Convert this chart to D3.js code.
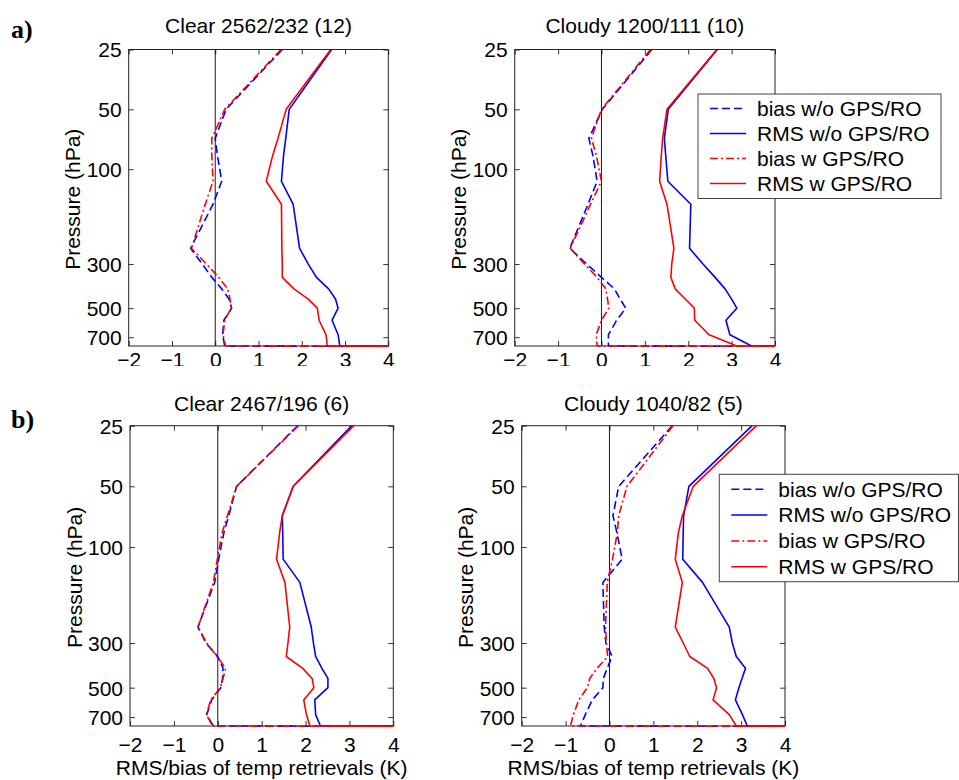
<!DOCTYPE html>
<html>
<head>
<meta charset="utf-8">
<script src="https://cdn.jsdelivr.net/npm/d3@7"></script>
<style>
  body { margin: 0; background: #fff; }
  text { font-family: "Liberation Sans", Arial, Helvetica, sans-serif; }
</style>
</head>
<body>
<script>
// pressure levels (hPa); last level is the surface point, far off the x range
var levels = [25, 50, 70, 85, 115, 150, 250, 300, 350, 400, 450, 500, 575, 680, 775, 800];
var xTicks = [-2, -1, 0, 1, 2, 3, 4];
var yTicks = [25, 50, 100, 300, 500, 700];
var seriesNames = ["bias w/o GPS/RO", "RMS w/o GPS/RO", "bias w GPS/RO", "RMS w GPS/RO"];
var titles = ["Clear 2562/232 (12)", "Cloudy 1200/111 (10)", "Clear 2467/196 (6)", "Cloudy 1040/82 (5)"];
var rowLabels = ["a)", "b)"];

// a) clear
var clearA_biasNo = [1.55, 0.25, 0.0, 0.05, 0.15, -0.05, -0.57, -0.3, -0.08, 0.15, 0.32, 0.38, 0.2, 0.17, 0.22, 30];
var clearA_rmsNo  = [2.69, 1.71, 1.63, 1.58, 1.53, 1.80, 1.95, 2.15, 2.34, 2.62, 2.78, 2.84, 2.70, 2.84, 2.88, 30];
var clearA_biasW  = [1.52, 0.22, -0.08, -0.08, -0.05, -0.23, -0.55, -0.2, 0.08, 0.29, 0.34, 0.37, 0.22, 0.18, 0.24, 30];
var clearA_rmsW   = [2.67, 1.64, 1.45, 1.33, 1.18, 1.53, 1.54, 1.55, 1.55, 1.82, 2.15, 2.36, 2.40, 2.56, 2.59, 30];
// a) cloudy
var cloudyA_biasNo = [1.16, 0.02, -0.29, -0.2, -0.1, -0.31, -0.73, -0.34, 0.0, 0.3, 0.43, 0.56, 0.35, 0.16, 0.16, 30];
var cloudyA_rmsNo  = [2.67, 1.54, 1.45, 1.48, 1.53, 2.06, 2.03, 2.34, 2.62, 2.85, 3.0, 3.12, 2.87, 2.96, 3.46, 30];
var cloudyA_biasW  = [1.13, 0.0, -0.23, -0.12, 0.0, -0.25, -0.72, -0.39, -0.1, 0.1, 0.14, 0.17, 0.0, -0.12, -0.1, 30];
var cloudyA_rmsW   = [2.66, 1.51, 1.41, 1.38, 1.34, 1.51, 1.67, 1.62, 1.60, 1.70, 1.93, 2.14, 2.15, 2.48, 3.12, 30];
// b) clear
var clearB_biasNo = [1.82, 0.43, 0.25, 0.14, 0.02, -0.07, -0.45, -0.27, 0.0, 0.12, 0.11, 0.07, -0.14, -0.25, -0.1, 30];
var clearB_rmsNo  = [3.05, 1.72, 1.47, 1.48, 1.49, 1.87, 2.13, 2.18, 2.23, 2.37, 2.51, 2.51, 2.21, 2.23, 2.34, 30];
var clearB_biasW  = [1.84, 0.43, 0.22, 0.10, -0.01, -0.1, -0.45, -0.25, -0.02, 0.18, 0.12, 0.06, -0.16, -0.26, -0.12, 30];
var clearB_rmsW   = [3.10, 1.72, 1.47, 1.41, 1.34, 1.53, 1.64, 1.60, 1.56, 1.93, 2.15, 2.19, 1.96, 2.02, 2.10, 30];
// b) cloudy
var cloudyB_biasNo = [1.43, 0.21, 0.08, 0.17, 0.29, -0.15, -0.12, -0.08, 0.06, -0.05, -0.14, -0.15, -0.39, -0.55, -0.66, 30];
var cloudyB_rmsNo  = [3.25, 1.81, 1.69, 1.68, 1.67, 2.12, 2.73, 2.80, 2.89, 3.10, 3.02, 2.95, 2.87, 3.03, 3.14, 30];
var cloudyB_biasW  = [1.45, 0.40, 0.21, 0.18, 0.07, -0.05, -0.09, -0.07, -0.04, -0.28, -0.45, -0.5, -0.70, -0.82, -0.89, 30];
var cloudyB_rmsW   = [3.35, 1.91, 1.66, 1.57, 1.50, 1.66, 1.50, 1.68, 1.83, 2.23, 2.38, 2.44, 2.36, 2.73, 2.89, 30];

var styles = [
  { color: "#0000ff", dash: "8,4" },
  { color: "#0000ff", dash: null },
  { color: "#ff0000", dash: "8,3,2,3" },
  { color: "#ff0000", dash: null }
];

var panels = [
  { title: titles[0], x: 128.7, y: 49.5, w: 259.6, h: 296.5, series: [clearA_biasNo, clearA_rmsNo, clearA_biasW, clearA_rmsW],
    tickBase: 21, tickClip: 366, xlabel: false, legend: null },
  { title: titles[1], x: 514.7, y: 49.5, w: 260.3, h: 296.5, series: [cloudyA_biasNo, cloudyA_rmsNo, cloudyA_biasW, cloudyA_rmsW],
    tickBase: 21, tickClip: 366, xlabel: false, legend: { x: 698, y: 94, w: 243, h: 104.5, row: 25, first: 14.5 } },
  { title: titles[2], x: 130, y: 425.7, w: 263.3, h: 300.3, series: [clearB_biasNo, clearB_rmsNo, clearB_biasW, clearB_rmsW],
    tickBase: 26.3, tickClip: null, xlabel: true, legend: null },
  { title: titles[3], x: 521.7, y: 425.7, w: 263.3, h: 300.3, series: [cloudyB_biasNo, cloudyB_rmsNo, cloudyB_biasW, cloudyB_rmsW],
    tickBase: 26.3, tickClip: null, xlabel: true, legend: { x: 719.3, y: 474.3, w: 239.2, h: 107.4, row: 25.8, first: 15 } }
];

var fs = 21;

var svg = d3.select("body").append("svg")
  .attr("width", 959)
  .attr("height", 780);

svg.append("rect").attr("width", 959).attr("height", 780).attr("fill", "white");

// row labels a) b)
svg.selectAll(".rowlab")
  .data(rowLabels)
  .enter()
  .append("text")
  .attr("x", 11)
  .attr("y", function(d, i) { return i == 0 ? 37.5 : 427.5; })
  .style("font-family", "'Liberation Serif', 'Times New Roman', serif")
  .style("font-weight", "bold")
  .style("font-size", "26px")
  .text(function(d) { return d; });

panels.forEach(function(p, pi) {
  var x = d3.scaleLinear().domain([-2, 4]).range([0, p.w]);
  var y = d3.scaleLog().domain([25, 775]).range([0, p.h]);

  var g = svg.append("g").attr("transform", "translate(" + p.x + "," + p.y + ")");

  var clipId = "clip" + pi;
  svg.append("clipPath").attr("id", clipId)
    .append("rect").attr("x", p.x).attr("y", p.y).attr("width", p.w).attr("height", p.h + 1.2);

  // axes: ticks inside on all four sides
  var left = g.append("g").call(d3.axisLeft(y).tickValues(yTicks).tickFormat(d3.format("d"))
    .tickSizeInner(-5).tickSizeOuter(0).tickPadding(7));
  g.append("g").attr("transform", "translate(" + p.w + ",0)")
    .call(d3.axisRight(y).tickValues(yTicks).tickFormat("").tickSizeInner(-5).tickSizeOuter(0));
  g.append("g").call(d3.axisTop(x).tickValues(xTicks).tickFormat("").tickSizeInner(-5).tickSizeOuter(0));
  var bottom = g.append("g").attr("transform", "translate(0," + p.h + ")")
    .call(d3.axisBottom(x).tickValues(xTicks).tickFormat(d3.format("d")).tickSizeInner(-5).tickSizeOuter(0));

  g.selectAll(".domain").remove();
  g.selectAll(".tick line").attr("stroke", "#333");
  g.selectAll(".tick text").attr("fill", "#000").style("font-size", fs + "px")
    .style("font-family", "'Liberation Sans', Arial, sans-serif");
  left.selectAll(".tick text").attr("dy", "0.35em");
  bottom.selectAll(".tick text").attr("y", p.tickBase).attr("dy", 0);

  if (p.tickClip) {
    var tcId = "tclip" + pi;
    svg.append("clipPath").attr("id", tcId)
      .append("rect").attr("x", -50).attr("y", -10).attr("width", p.w + 100).attr("height", p.tickClip - p.y - p.h + 10);
    bottom.attr("clip-path", "url(#" + tcId + ")");
  }

  // zero line
  g.append("line")
    .attr("x1", x(0)).attr("x2", x(0))
    .attr("y1", 0).attr("y2", p.h)
    .attr("stroke", "#000").attr("stroke-width", 0.9);

  // curves
  var line = d3.line()
    .x(function(d) { return x(d[1]); })
    .y(function(d) { return y(d[0]); });

  var curves = svg.append("g").attr("clip-path", "url(#" + clipId + ")")
    .append("g").attr("transform", "translate(" + p.x + "," + p.y + ")");

  curves.selectAll("path")
    .data(p.series)
    .enter()
    .append("path")
    .attr("d", function(vals) { return line(d3.zip(levels, vals)); })
    .attr("fill", "none")
    .attr("stroke", function(d, i) { return styles[i].color; })
    .attr("stroke-dasharray", function(d, i) { return styles[i].dash; })
    .attr("stroke-width", 1.6)
    .attr("stroke-linejoin", "round");

  // box
  g.append("rect")
    .attr("width", p.w).attr("height", p.h)
    .attr("fill", "none").attr("stroke", "#222").attr("stroke-width", 1);

  // title
  g.append("text")
    .attr("x", p.w / 2)
    .attr("y", pi < 2 ? 33 - p.y : 410.5 - p.y)
    .attr("text-anchor", "middle")
    .style("font-size", fs + "px")
    .text(p.title);

  // y label
  g.append("text")
    .attr("transform", "translate(" + (-48.5) + "," + (p.h / 2 + 1.5) + ") rotate(-90)")
    .attr("text-anchor", "middle")
    .style("font-size", fs + "px")
    .text("Pressure (hPa)");

  if (p.xlabel) {
    g.append("text")
      .attr("x", p.w / 2)
      .attr("y", 775 - p.y)
      .attr("text-anchor", "middle")
      .style("font-size", fs + "px")
      .text("RMS/bias of temp retrievals (K)");
  }

  if (p.legend) {
    var L = p.legend;
    var lg = svg.append("g").attr("transform", "translate(" + L.x + "," + L.y + ")");
    lg.append("rect")
      .attr("width", L.w).attr("height", L.h)
      .attr("fill", "white").attr("stroke", "#444").attr("stroke-width", 1);
    var items = lg.selectAll(".item")
      .data(seriesNames)
      .enter()
      .append("g")
      .attr("transform", function(d, i) { return "translate(0," + (L.first + i * L.row) + ")"; });
    items.append("line")
      .attr("x1", 12).attr("x2", 48)
      .attr("stroke", function(d, i) { return styles[i].color; })
      .attr("stroke-dasharray", function(d, i) { return styles[i].dash; })
      .attr("stroke-width", 1.5);
    items.append("text")
      .attr("x", 59)
      .attr("dy", "0.35em")
      .style("font-size", fs + "px")
      .text(function(d) { return d; });
  }
});
</script>
</body>
</html>
